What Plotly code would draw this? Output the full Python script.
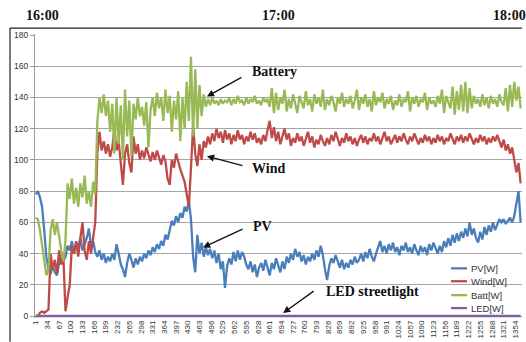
import plotly.graph_objects as go

# Sample index (one reading every 6 samples of the logger)
sample = list(range(1, 1370, 6))

pv_w = [
    78, 80, 76, 70, 55, 38, 30, 27, 32, 28,
    26, 34, 37, 35, 38, 45, 42, 48, 40, 47,
    44, 50, 42, 46, 50, 56, 45, 48, 41, 38,
    42, 36, 40, 34, 38, 35, 40, 36, 46, 40,
    33, 30, 25, 34, 40, 36, 31, 37, 33, 38,
    35, 40, 37, 42, 39, 44, 41, 46, 43, 48,
    45, 52, 49, 55, 61, 58, 64, 60, 66, 63,
    70, 67, 74, 62, 38, 28, 52, 40, 47, 38,
    44, 39, 43, 37, 42, 34, 40, 30, 35, 18,
    32, 37, 33, 41, 35, 42, 36, 41, 38, 33,
    30, 35, 28, 33, 25, 31, 34, 29, 36, 31,
    26, 34, 30, 37, 32, 28, 35, 30, 38, 34,
    40, 36, 43, 38, 41, 35, 39, 33, 38, 35,
    40, 36, 42, 38, 45, 39, 30, 23, 32, 37,
    34, 39, 35, 31, 36, 30, 34, 31, 36, 33,
    38, 34, 36, 40, 35, 41, 37, 43, 38, 35,
    40, 44, 48, 41, 45, 40, 46, 42, 47, 41,
    44, 39, 45, 42, 47, 41, 44, 40, 46, 42,
    39, 45, 41, 44, 39, 46, 42, 47, 43, 40,
    45, 41, 48, 44, 50, 45, 52, 47, 53, 48,
    54, 50, 56, 51, 60, 52, 56, 50, 47, 54,
    49, 57, 52, 58, 54, 60, 55, 59, 62, 60,
    62, 59, 61, 63, 60, 64, 72, 80, 60,
]

wind_w = [
    0, 0, 2, 3, 2, 3, 4, 40, 30, 36,
    27, 42, 33, 38, 3, 12, 20, 45, 40, 48,
    38, 50, 60, 42, 36, 48, 40, 50, 60, 105,
    118, 106, 112, 104, 110, 102, 108, 120, 106, 112,
    95, 84, 104, 110, 98, 92, 115, 104, 110, 100,
    106, 101, 108, 103, 99, 105, 100, 106, 102, 97,
    103, 99, 88, 84, 100, 95, 104, 98, 94, 90,
    86, 78, 70, 95, 122, 104, 96, 110, 100, 112,
    108, 115, 110, 117, 112, 120, 114, 118, 111, 119,
    113, 117, 110, 116, 112, 119, 113, 116, 110, 115,
    112, 118, 113, 117, 111, 114, 110, 116, 112, 119,
    125, 114, 121, 112, 118, 110, 115, 120, 113, 117,
    109, 114, 111, 117, 112, 115, 109, 113, 118, 111,
    115, 108, 113, 110, 116, 112, 109, 114, 110, 116,
    112, 118, 113, 109, 114, 111, 117, 112, 115, 110,
    114, 109, 113, 116, 111, 115, 110, 114, 112, 117,
    112, 115, 110, 114, 118, 112, 115, 110, 113, 116,
    111, 115, 112, 117, 113, 110, 115, 112, 117, 113,
    110, 114, 111, 116, 112, 115, 110, 114, 111, 116,
    112, 115, 110, 114, 112, 117, 113, 110, 115, 112,
    116, 111, 115, 112, 117, 113, 110, 114, 111, 116,
    112, 115, 110, 114, 111, 115, 112, 116, 112, 108,
    113, 106, 110, 104, 108, 100, 92, 98, 85,
]

batt_w = [
    63, 62, 55, 45, 35, 26, 30, 55, 62, 52,
    60, 50, 42, 35, 48, 85, 75, 88, 72, 82,
    70, 85, 76, 90, 72, 80, 70, 86, 78, 125,
    140, 130, 142, 128, 138, 118, 136, 104, 140, 110,
    135, 100, 145, 115, 138, 102, 136, 126, 140, 128,
    134, 122, 137, 108, 132, 140, 128, 143, 133, 140,
    125, 145, 130, 141, 118, 138, 126, 144, 112, 140,
    120, 150, 125, 166, 115, 158, 120, 148, 128, 142,
    134, 139, 135, 140, 136, 138, 135, 139, 136, 138,
    137, 140, 135, 139, 136, 141, 137, 138, 135, 140,
    136, 139, 137, 141, 136, 138, 135, 140, 137, 139,
    134, 146, 130, 143, 132, 140, 136, 145, 131, 139,
    133, 142, 136, 130, 141, 137, 133, 144, 135, 139,
    131, 142, 136, 140, 134, 145, 132, 139, 135, 141,
    137, 131, 140, 136, 143, 134, 139, 136, 141, 133,
    138, 145, 132, 140, 136, 142, 134, 139, 131, 144,
    135, 140, 137, 143, 133, 139, 136, 141, 132, 138,
    135, 142, 134, 139, 137, 144, 131, 140, 136, 141,
    134, 139, 137, 143, 132, 140, 136, 138, 134, 141,
    136, 145, 130, 141, 137, 133, 147, 129, 144, 132,
    148, 131, 150, 130, 146, 133, 141, 136, 139, 134,
    142, 135, 140, 133, 141, 136, 139, 134, 142, 137,
    135, 146, 131, 148, 134, 150, 138, 147, 133,
]

led_w = [0] * len(sample)

series_names = ["PV[W]", "Wind[W]", "Batt[W]", "LED[W]"]
series_values = [pv_w, wind_w, batt_w, led_w]
series_colors = ["#4A7EBB", "#BE4B48", "#98B954", "#7D60A0"]

x_ticks = list(range(1, 1355, 33))
y_ticks = list(range(0, 181, 20))
time_labels = ["16:00", "17:00", "18:00"]

W, H = 526, 342
ML, MR, MT, MB = 35, 4, 34, 22


def px(p):
    return (p - ML) / (W - ML - MR)


def py(p):
    return (H - MB - p) / (H - MT - MB)


fig = go.Figure()
for name, vals, col in zip(series_names, series_values, series_colors):
    fig.add_trace(go.Scatter(
        x=sample, y=vals, mode="lines", name=name,
        line=dict(color=col, width=2.3), showlegend=False,
    ))

serif = "Liberation Serif"
sans = "Liberation Sans"

annotations = []
# hour markers above the plot
for label, xp in zip(time_labels, [42.5, 278, 509]):
    annotations.append(dict(
        text=f"<b>{label}</b>", xref="paper", yref="paper",
        x=px(xp), y=py(15), xanchor="center", yanchor="middle",
        showarrow=False, font=dict(family=serif, size=14, color="#111"),
    ))

# callouts: label text and the arrow pointing at the curve
callouts = [
    ("Battery", 606, 156.5, 484, 140.6, 36, -20),
    ("Wind", 606, 94.8, 484, 102.4, 37, 10),
    ("PV", 608, 57.2, 473, 43.9, 41, -19),
    ("LED streetlight", 814, 15.9, 699, 1.9, 32, -23),
]
for text, tx, ty, ax_tip, ay_tip, dx, dy in callouts:
    annotations.append(dict(
        text=f"<b>{text}</b>", x=tx, y=ty, xref="x", yref="y",
        xanchor="left", yanchor="middle", showarrow=False,
        font=dict(family=serif, size=14, color="#111"),
    ))
    annotations.append(dict(
        text="", x=ax_tip, y=ay_tip, xref="x", yref="y",
        ax=dx, ay=dy, showarrow=True, arrowhead=2, arrowsize=1.1,
        arrowwidth=1.3, arrowcolor="#111",
    ))

shapes = []
# custom legend entries
for i, (name, col) in enumerate(zip(series_names, series_colors)):
    yy = [270, 283, 297, 310][i]
    shapes.append(dict(
        type="line", xref="paper", yref="paper",
        x0=px(451), x1=px(467), y0=py(yy), y1=py(yy),
        line=dict(color=col, width=2.3),
    ))
    annotations.append(dict(
        text=name, xref="paper", yref="paper", x=px(468.5), y=py(yy),
        xanchor="left", yanchor="middle", showarrow=False,
        font=dict(family=sans, size=9.5, color="#333"),
    ))

# outer frame (left and top edges)
shapes.append(dict(type="line", xref="paper", yref="paper",
                   x0=px(10), x1=px(10), y0=py(28), y1=py(H + 2),
                   line=dict(color="#222", width=1.2)))
shapes.append(dict(type="line", xref="paper", yref="paper",
                   x0=px(10), x1=px(522), y0=py(28), y1=py(28),
                   line=dict(color="#222", width=1.2)))

fig.update_layout(
    width=W, height=H,
    margin=dict(l=ML, r=MR, t=MT, b=MB),
    paper_bgcolor="white", plot_bgcolor="white",
    annotations=annotations, shapes=shapes,
    xaxis=dict(
        range=[-1, 1372.8], tickmode="array", tickvals=x_ticks,
        ticktext=[str(v) for v in x_ticks], tickangle=-90,
        tickfont=dict(family=sans, size=8, color="#333"),
        showgrid=False, zeroline=False, showline=False, ticks="",
    ),
    yaxis=dict(
        range=[-1.27, 180.64], tickmode="array", tickvals=y_ticks,
        tickfont=dict(family=sans, size=8.5, color="#333"),
        showgrid=True, gridcolor="#A5A5A5", gridwidth=1,
        zeroline=False, showline=True, linecolor="#9A9A9A", linewidth=1,
        ticks="outside", ticklen=4, tickcolor="#9A9A9A",
    ),
)

fig.write_html("out.html")
